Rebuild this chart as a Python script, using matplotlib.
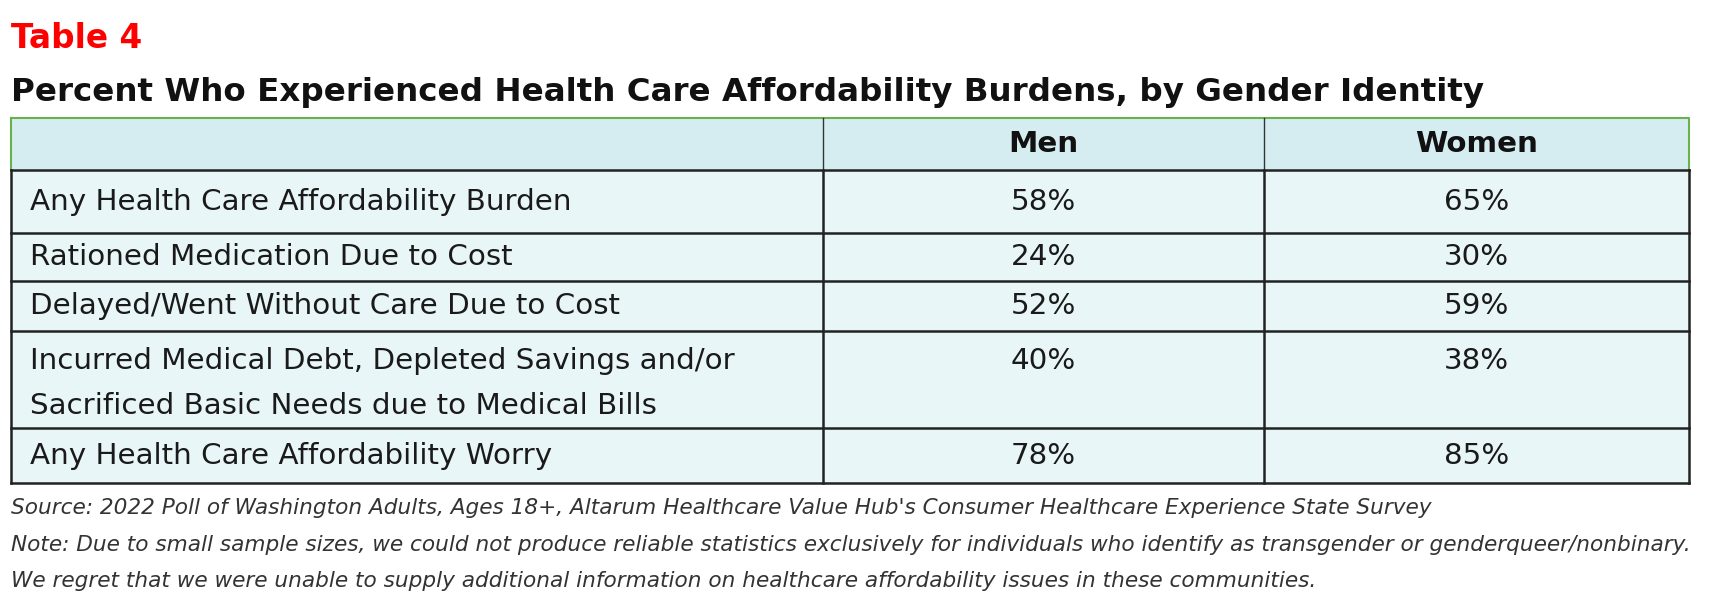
import matplotlib
matplotlib.use("Agg")
import matplotlib.pyplot as plt
from matplotlib.patches import Rectangle

plt.rcParams['font.family'] = ['DejaVu Sans']

categories = ["Any Health Care Affordability Burden",
              "Rationed Medication Due to Cost",
              "Delayed/Went Without Care Due to Cost",
              "Incurred Medical Debt, Depleted Savings and/or\nSacrificed Basic Needs due to Medical Bills",
              "Any Health Care Affordability Worry"]
columns = ["Men", "Women"]
men = ["58%", "24%", "52%", "40%", "78%"]
women = ["65%", "30%", "59%", "38%", "85%"]
title_label = "Table 4"
title = "Percent Who Experienced Health Care Affordability Burdens, by Gender Identity"
notes = ["Source: 2022 Poll of Washington Adults, Ages 18+, Altarum Healthcare Value Hub's Consumer Healthcare Experience State Survey",
         "Note: Due to small sample sizes, we could not produce reliable statistics exclusively for individuals who identify as transgender or genderqueer/nonbinary.",
         "We regret that we were unable to supply additional information on healthcare affordability issues in these communities."]

W, H = 1711, 604
fig = plt.figure(figsize=(W/100, H/100), dpi=100)
ax = fig.add_axes([0, 0, 1, 1])
ax.set_xlim(0, W); ax.set_ylim(H, 0); ax.axis('off')
r = fig.canvas.get_renderer()

def fit_size(s, target, **kw):
    t = ax.text(0, 0, s, fontsize=10, **kw)
    w = t.get_window_extent(renderer=r).width
    t.remove()
    return 10 * target / w

xl, x1, x2, xr = 11, 823, 1264, 1689
rows = [118, 170, 233, 281, 331, 428, 483]

ax.text(11, 38, title_label, color="#ff0000", fontsize=fit_size(title_label, 132, fontweight='bold'),
        fontweight='bold', va='center')
ax.text(11, 93, title, color="#111111", fontsize=fit_size(title, 1470, fontweight='bold'),
        fontweight='bold', va='center')

ax.add_patch(Rectangle((xl, rows[0]), xr-xl, rows[1]-rows[0], facecolor="#d5edf1", edgecolor="none"))
ax.add_patch(Rectangle((xl, rows[1]), xr-xl, rows[-1]-rows[1], facecolor="#e8f6f8", edgecolor="none"))
ax.plot([xl, xr, xr], [rows[0], rows[0], rows[1]], color="#6ab04c", lw=1.5)
ax.plot([xl, xl], [rows[0], rows[1]], color="#6ab04c", lw=1.5)
for x in (x1, x2):
    ax.plot([x, x], [rows[0], rows[1]], color="#333333", lw=1)
for y in rows[1:]:
    ax.plot([xl, xr], [y, y], color="#222222", lw=1.8)
for x in (xl, x1, x2, xr):
    ax.plot([x, x], [rows[1], rows[-1]], color="#222222", lw=1.8)

fs = fit_size(categories[0], 543)
cm, cw = (x1+x2)/2, (x2+xr)/2
for x, c in zip((cm, cw), columns):
    ax.text(x, (rows[0]+rows[1])/2, c, fontsize=fs, fontweight='bold', ha='center', va='center', color="#111111")

for i, (c, m, w) in enumerate(zip(categories, men, women)):
    top = rows[i+1]
    if "\n" in c:
        l1, l2 = c.split("\n")
        ax.text(30, top + 30, l1, fontsize=fs, va='center', color="#1a1a1a")
        ax.text(30, top + 75, l2, fontsize=fs, va='center', color="#1a1a1a")
        yv = top + 30
    else:
        yv = (top + rows[i+2]) / 2
        ax.text(30, yv, c, fontsize=fs, va='center', color="#1a1a1a")
    ax.text(cm, yv, m, fontsize=fs, ha='center', va='center', color="#1a1a1a")
    ax.text(cw, yv, w, fontsize=fs, ha='center', va='center', color="#1a1a1a")

nfs = fit_size(notes[1], 1675, style='italic')
for y, n in zip([508, 545, 581], notes):
    ax.text(11, y, n, fontsize=nfs, style='italic', va='center', color="#333333")

fig.savefig("out.png", dpi=100)
